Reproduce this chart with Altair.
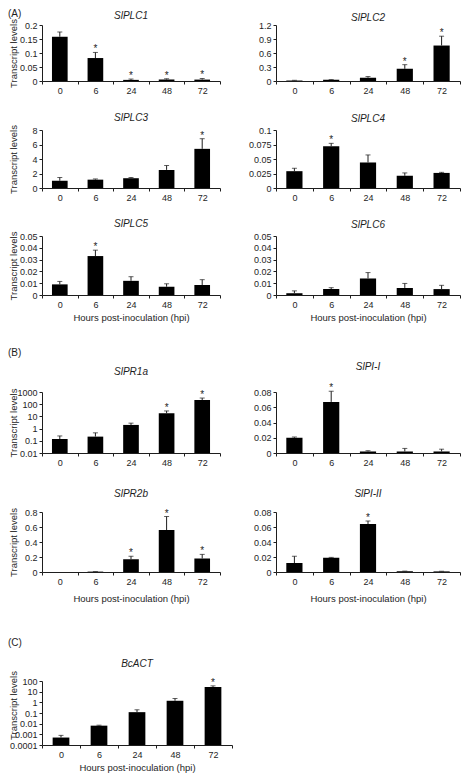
import altair as alt
import pandas as pd

hours = ["0", "6", "24", "48", "72"]

# (A) phospholipase C genes
plc1_mean = [0.158, 0.082, 0.004, 0.005, 0.005]
plc1_err = [0.017, 0.020, 0.003, 0.003, 0.004]
plc1_sig = [0, 1, 1, 1, 1]

plc2_mean = [0.010, 0.025, 0.070, 0.260, 0.760]
plc2_err = [0.005, 0.005, 0.025, 0.090, 0.200]
plc2_sig = [0, 0, 0, 1, 1]

plc3_mean = [1.0, 1.15, 1.35, 2.5, 5.4]
plc3_err = [0.45, 0.10, 0.10, 0.60, 1.40]
plc3_sig = [0, 0, 0, 0, 1]

plc4_mean = [0.029, 0.072, 0.044, 0.021, 0.026]
plc4_err = [0.005, 0.005, 0.013, 0.005, 0.001]
plc4_sig = [0, 1, 0, 0, 0]

plc5_mean = [0.009, 0.033, 0.012, 0.007, 0.0085]
plc5_err = [0.0025, 0.005, 0.0035, 0.0025, 0.0045]
plc5_sig = [0, 1, 0, 0, 0]

plc6_mean = [0.0015, 0.005, 0.014, 0.006, 0.005]
plc6_err = [0.002, 0.0012, 0.005, 0.0038, 0.0032]
plc6_sig = [0, 0, 0, 0, 0]

# (B) defence marker genes
pr1a_mean = [0.14, 0.22, 2.0, 18.0, 220.0]
pr1a_err = [0.11, 0.23, 0.8, 10.0, 100.0]
pr1a_sig = [0, 0, 0, 1, 1]

pi1_mean = [0.020, 0.067, 0.002, 0.002, 0.002]
pi1_err = [0.001, 0.014, 0.001, 0.004, 0.003]
pi1_sig = [0, 1, 0, 0, 0]

pr2b_mean = [0.0, 0.005, 0.17, 0.56, 0.18]
pr2b_err = [0.0, 0.001, 0.04, 0.18, 0.055]
pr2b_sig = [0, 0, 1, 1, 1]

pi2_mean = [0.012, 0.019, 0.064, 0.001, 0.0008]
pi2_err = [0.009, 0.0005, 0.004, 0.0002, 0.0002]
pi2_sig = [0, 0, 1, 0, 0]

# (C) fungal actin
bcact_mean = [0.0005, 0.0065, 0.12, 1.4, 28.0]
bcact_err = [0.0003, 0.0007, 0.08, 0.9, 7.0]
bcact_sig = [0, 0, 0, 0, 1]

FONT = "Liberation Sans"
INK = "#1e1e1e"
XTITLE = "Hours post-inoculation (hpi)"
YTITLE = "Transcript levels"


def panel(name, mean, err, sig, domain, ticks, scale_type="linear", width=178,
          height=57, ytitle=False, xtitle=False, title_offset=2, ytitle_y=None,
          xtitle_pad=3):
    df = pd.DataFrame({"hpi": hours, "mean": mean, "err": err, "sig": sig})
    base = alt.Chart(df).transform_calculate(
        top="datum.mean + datum.err", base=str(domain[0])
    )
    yscale = alt.Scale(type=scale_type, domain=domain, nice=False)
    yax = dict(values=ticks, format=".4~g", grid=False, tickSize=3, labelPadding=2,
               minExtent=22, maxExtent=22, titlePadding=2,
               title=YTITLE if ytitle else None)
    if ytitle_y is not None:
        yax["titleY"] = ytitle_y
    yaxis = alt.Axis(**yax)
    xaxis = alt.Axis(title=XTITLE if xtitle else None, labelAngle=0, tickSize=3,
                     tickBand="extent", labelPadding=2, titlePadding=xtitle_pad)
    x = alt.X("hpi:N", sort=hours, scale=alt.Scale(paddingInner=0, paddingOuter=0),
              axis=xaxis)
    y_mean = alt.Y("mean:Q", scale=yscale, axis=yaxis)
    y_top = alt.Y("top:Q", scale=yscale, axis=yaxis)

    bars = base.mark_bar(color="#000000", width=alt.RelativeBandSize(0.44)).encode(
        x=x, y=y_mean, y2=alt.Y2("base"))
    rule = base.transform_filter("datum.err > 0").mark_rule(
        color=INK, strokeWidth=1).encode(x=x, y=y_mean, y2=alt.Y2("top"))
    cap = base.transform_filter("datum.err > 0").mark_tick(
        color=INK, thickness=1, size=5).encode(x=x, y=y_top)
    star = base.transform_filter("datum.sig == 1").mark_text(
        text="*", font=FONT, fontSize=10, baseline="alphabetic", color=INK
    ).encode(x=x, y=y_top)
    return alt.layer(bars, rule, cap, star).properties(
        width=width, height=height,
        title=alt.TitleParams(text=name, fontStyle="italic", fontSize=10,
                              fontWeight="normal", font=FONT, color=INK,
                              offset=title_offset, anchor="middle"),
    )


def section_title(label, offset, dy=0):
    return alt.TitleParams(text=label, anchor="start", fontSize=10,
                           fontWeight="normal", font=FONT, color=INK,
                           offset=offset, dy=dy)


lin5 = [0, 0.01, 0.02, 0.03, 0.04, 0.05]
lin8 = [0, 0.02, 0.04, 0.06, 0.08]

p1 = panel("SlPLC1", plc1_mean, plc1_err, plc1_sig, [0, 0.2], [0, 0.05, 0.1, 0.15, 0.2],
           height=56, ytitle=True, title_offset=-2)
p2 = panel("SlPLC2", plc2_mean, plc2_err, plc2_sig, [0, 1.2], [0, 0.3, 0.6, 0.9, 1.2],
           width=184, height=56, title_offset=-2)
p3 = panel("SlPLC3", plc3_mean, plc3_err, plc3_sig, [0, 8], [0, 2, 4, 6, 8],
           height=58, ytitle=True)
p4 = panel("SlPLC4", plc4_mean, plc4_err, plc4_sig, [0, 0.1], [0, 0.025, 0.05, 0.075, 0.1],
           width=184, height=58)
p5 = panel("SlPLC5", plc5_mean, plc5_err, plc5_sig, [0, 0.05], lin5,
           height=59, ytitle=True, xtitle=True)
p6 = panel("SlPLC6", plc6_mean, plc6_err, plc6_sig, [0, 0.05], lin5,
           width=184, height=59, xtitle=True)

q1 = panel("SlPR1a", pr1a_mean, pr1a_err, pr1a_sig, [0.01, 1000],
           [0.01, 0.1, 1, 10, 100, 1000], scale_type="log", height=61, ytitle=True,
           title_offset=11)
q2 = panel("SlPI-I", pi1_mean, pi1_err, pi1_sig, [0, 0.08], lin8,
           width=184, height=61, title_offset=11)
q3 = panel("SlPR2b", pr2b_mean, pr2b_err, pr2b_sig, [0, 0.8], [0, 0.2, 0.4, 0.6, 0.8],
           height=60, ytitle=True, xtitle=True, title_offset=9, xtitle_pad=7)
q4 = panel("SlPI-II", pi2_mean, pi2_err, pi2_sig, [0, 0.08], lin8,
           width=184, height=60, xtitle=True, title_offset=9, xtitle_pad=7)

r1 = panel("BcACT", bcact_mean, bcact_err, bcact_sig, [0.0001, 100],
           [0.0001, 0.001, 0.01, 0.1, 1, 10, 100], scale_type="log", width=190,
           height=64, ytitle=True, xtitle=True, ytitle_y=24)

secA = alt.concat(p1, p2, p3, p4, p5, p6, columns=2,
                  spacing={"row": 17, "column": 27},
                  title=section_title("(A)", 0, dy=8))
secB = alt.concat(q1, q2, q3, q4, columns=2, spacing={"row": 21, "column": 32},
                  title=section_title("(B)", 4))
secC = alt.concat(r1, columns=1, title=section_title("(C)", 11))

chart = alt.vconcat(
    alt.vconcat(secA, secB, spacing=26), secC, spacing=34
).properties(
    padding={"left": 0, "top": 0, "right": 2, "bottom": 2}
).configure_view(stroke=None).configure_axis(
    labelFont=FONT, titleFont=FONT, labelFontSize=9, titleFontSize=9.5,
    titleFontWeight="normal", labelColor=INK, titleColor=INK,
    domainColor=INK, tickColor=INK, domainWidth=1, tickWidth=1
)

chart.save("out.html", embed_options={"renderer": "svg", "actions": False})
